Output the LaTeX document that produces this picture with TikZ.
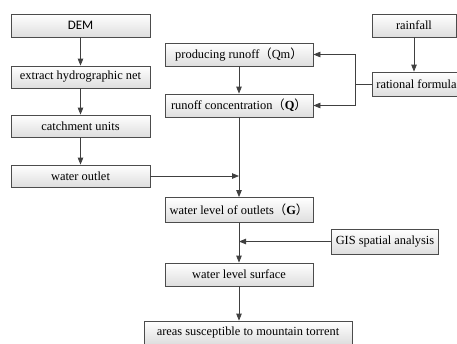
\documentclass[tikz,border=0pt]{standalone}
\usepackage{fontspec}
\setmainfont{Liberation Serif}
\newfontfamily\cjk{Noto Sans CJK SC}
\newfontfamily\demfont{Carlito}
\usetikzlibrary{arrows.meta}
\newcommand{\fwl}{{\cjk （}}
\newcommand{\fwr}{{\cjk ）}}
\begin{document}
\begin{tikzpicture}[x=1pt,y=-1pt,
    box/.style={draw=black!70, line width=0.8pt, top color=white, bottom color=black!13,
      minimum height=23pt, inner xsep=4pt, inner ysep=2pt, font=\fontsize{12.4}{14}\selectfont},
    link/.style={draw=black!75, line width=0.8pt, -{Triangle[length=7pt,width=5.5pt]}}]
      \useasboundingbox (0,0) rectangle (457,343);
      \clip (0,0) rectangle (457,343);
      \node[box, minimum width=139pt, font=\demfont\fontsize{13}{15}\selectfont] (dem) at (80.5,25.5){DEM};
      \node[box, minimum width=139pt, minimum height=22pt] (net) at (80.5,77){extract hydrographic net};
      \node[box, minimum width=139pt, minimum height=22pt] (unit) at (80.5,126){catchment units};
      \node[box, minimum width=139pt, minimum height=22pt] (outlet) at (80.5,176){water outlet};
      \node[box, minimum width=148pt] (prod) at (239,54.5){producing runoff\fwl Qm\fwr};
      \node[box, minimum width=148pt] (conc) at (239,105.5){runoff concentration\fwl\textbf{Q}\fwr};
      \node[box, minimum width=84pt] (rain) at (414,25.5){rainfall};
      \node[box, anchor=west, minimum height=24pt] (rf) at (372,84){rational formula};
      \node[box, minimum width=148pt, minimum height=25pt] (wlo) at (239,210){water level of outlets\fwl\textbf{G}\fwr};
      \node[box, minimum width=106pt, minimum height=25pt] (gis) at (385,241.5){GIS spatial analysis};
      \node[box, minimum width=148pt] (surf) at (239,274.5){water level surface};
      \node[box, minimum width=208pt] (area) at (248,332.5){areas susceptible to mountain torrent};
      \coordinate (jn) at (355,84);
      \draw[link] (dem) -- (net);
      \draw[link] (net) -- (unit);
      \draw[link] (unit) -- (outlet);
      \draw[link] (rain) -- (rain |- rf.north);
      \draw[link, -] (rf.west) -- (jn);
      \draw[link] (jn) |- (prod.east);
      \draw[link] (jn) |- (conc.east);
      \draw[link] (prod) -- (conc);
      \draw[link] (conc) -- (wlo);
      \draw[link] (outlet.east) -- (outlet.east -| conc);
      \draw[link] (gis.west) -- (gis.west -| wlo);
      \draw[link] (wlo) -- (surf);
      \draw[link] (surf |- surf.south) -- (surf |- area.north);

    \end{tikzpicture}
\end{document}
